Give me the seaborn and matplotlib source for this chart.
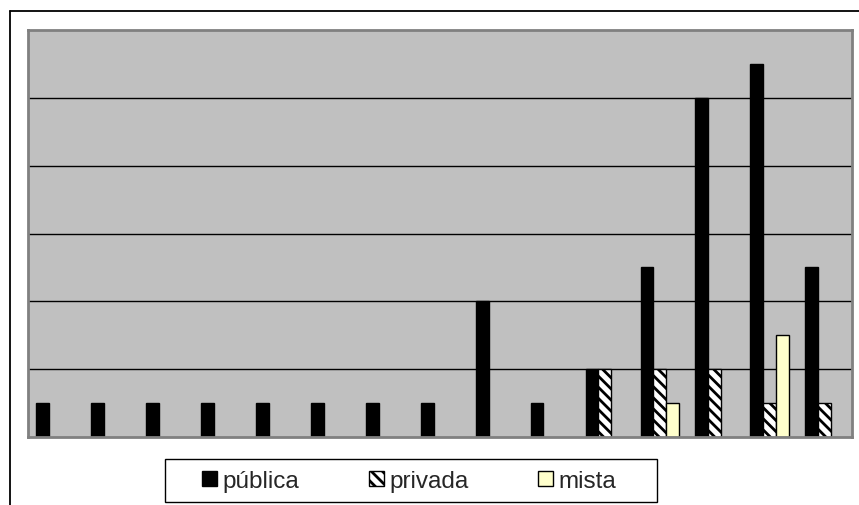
import matplotlib
matplotlib.use("Agg")
import matplotlib.pyplot as plt
from matplotlib.lines import Line2D
from matplotlib.patches import Patch, Rectangle
import pandas as pd
import seaborn as sns

# Counts per group for each type of entity
categorias = [str(i) for i in range(1, 16)]
publica = [1, 1, 1, 1, 1, 1, 1, 1, 4, 1, 2, 5, 10, 11, 5]
privada = [0, 0, 0, 0, 0, 0, 0, 0, 0, 0, 2, 2, 2, 1, 1]
mista = [0, 0, 0, 0, 0, 0, 0, 0, 0, 0, 0, 1, 0, 3, 0]
tipos = ["pública", "privada", "mista"]
cores = ["#000000", "#FFFFFF", "#FFFFCC"]

df = pd.DataFrame({
    "categoria": categorias * 3,
    "tipo": [tipos[0]] * 15 + [tipos[1]] * 15 + [tipos[2]] * 15,
    "valor": publica + privada + mista,
})

sns.set_theme(style="white")
plt.rcParams["font.family"] = ["Liberation Sans", "DejaVu Sans"]
plt.rcParams["hatch.linewidth"] = 2.0
plt.rcParams["hatch.color"] = "black"

W, H = 859, 506
fig = plt.figure(figsize=(W / 100, H / 100), dpi=100)
ax = fig.add_axes([28 / W, 1 - 438 / H, 824 / W, 407 / H])
ax.set_facecolor("#C0C0C0")

sns.barplot(data=df, x="categoria", y="valor", hue="tipo", hue_order=tipos,
            palette=cores, width=0.7, edgecolor="black", linewidth=1.0,
            saturation=1, legend=False, ax=ax)

for patch in ax.containers[1]:
    patch.set_hatch("\\\\\\")
for cont in ax.containers:
    for patch in cont:
        if patch.get_height() == 0:
            patch.set_visible(False)

ax.set_ylim(0, 12)
ax.set_xlim(-0.5, 14.5)
ax.set_yticks([2, 4, 6, 8, 10])
ax.yaxis.grid(True, color="black", linewidth=1.0)
ax.set_axisbelow(True)
ax.tick_params(left=False, bottom=False, labelleft=False, labelbottom=False)
ax.set_xlabel("")
ax.set_ylabel("")
for s in ax.spines.values():
    s.set_visible(True)
    s.set_color("#808080")
    s.set_linewidth(2.0)

# outer chart frame
fig.add_artist(Line2D([10 / W, 1.0], [1 - 11.5 / H, 1 - 11.5 / H],
                      transform=fig.transFigure, color="black", linewidth=1.3))
fig.add_artist(Line2D([10 / W, 10 / W], [0.0, 1 - 11.5 / H],
                      transform=fig.transFigure, color="black", linewidth=1.3))

# legend box
fig.add_artist(Rectangle((165 / W, 1 - 503 / H), 492 / W, 43 / H,
                         transform=fig.transFigure, facecolor="white",
                         edgecolor="black", linewidth=1.0, zorder=2))

handles = [
    Patch(facecolor=cores[0], edgecolor="black", linewidth=1.0),
    Patch(facecolor=cores[1], edgecolor="black", linewidth=1.0, hatch="\\\\\\"),
    Patch(facecolor=cores[2], edgecolor="black", linewidth=1.0),
]
leg = fig.legend(handles, tipos, loc="center", ncol=3,
                 bbox_to_anchor=(409 / W, 1 - 482 / H),
                 bbox_transform=fig.transFigure, fontsize=17.5, frameon=False,
                 handlelength=0.62, handleheight=0.62, handletextpad=0.22,
                 columnspacing=2.85, borderaxespad=0, borderpad=0)
leg.set_zorder(3)

fig.savefig("out.png", dpi=100)
